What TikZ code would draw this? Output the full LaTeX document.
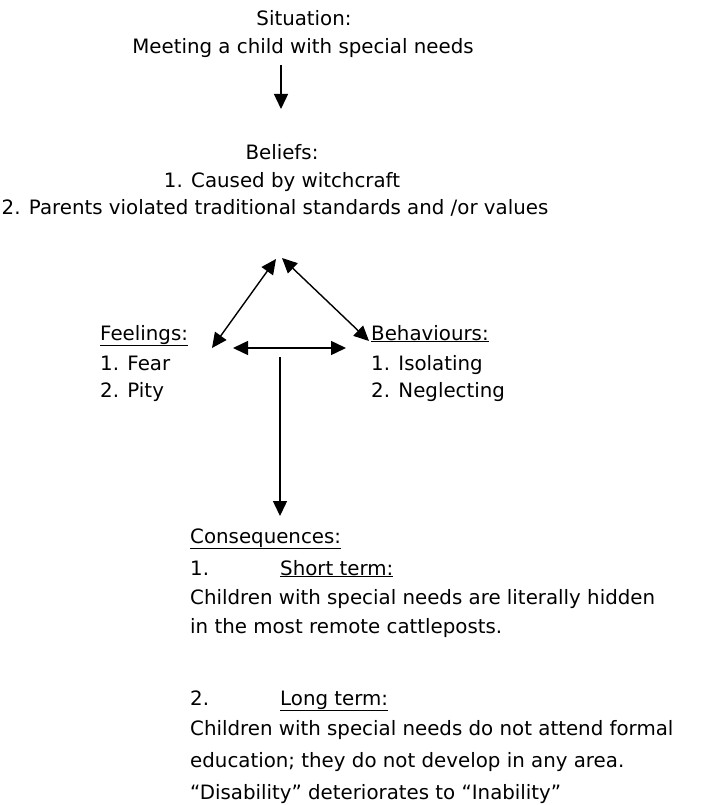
\documentclass[tikz,border=0pt]{standalone}
\usepackage{fontspec}
\setmainfont{DejaVu Sans}
\usetikzlibrary{arrows.meta}
\tikzset{
  txt/.style={inner sep=0pt, font=\fontsize{19.8}{24}\selectfont},
  ctxt/.style={txt, anchor=base},
  ltxt/.style={txt, anchor=base west},
  tip/.tip={Triangle[length=15pt,width=14pt]},
  arr/.style={line width=1.4pt, -tip},
  darr/.style={line width=1.4pt, tip-tip}
}
\begin{document}
\begin{tikzpicture}[x=1pt,y=-1pt]
\useasboundingbox (0,0) rectangle (701,805);
% Situation
\node[ctxt] (sit1) at (304,26) {Situation:};
\node[ctxt] (sit2) at (303,54) {Meeting a child with special needs};
\coordinate (a1s) at (281,65);
\coordinate (a1e) at (281,109);
\draw[arr] (a1s) -- (a1e);
% Beliefs
\node[ctxt] (bel1) at (282,160) {Beliefs:};
\node[ctxt] (bel2) at (282,187) {1. Caused by witchcraft};
\node[ctxt] (bel3) at (275,214) {2. Parents violated traditional standards and /or values};
% triangle
\coordinate (apexL) at (276,259);
\coordinate (apexR) at (282,258);
\coordinate (fe) at (212,348);
\coordinate (be) at (369,341);
\coordinate (hl) at (233,348);
\coordinate (hr) at (346,348);
\draw[darr] (fe) -- (apexL);
\draw[darr] (be) -- (apexR);
\draw[darr] (hl) -- (hr);
% Feelings
\node[ltxt] (fe1) at (100,340) {\underline{Feelings:}};
\node[ltxt] (fe2) at (100,370) {1. Fear};
\node[ltxt] (fe3) at (100,397) {2. Pity};
% Behaviours
\node[ltxt] (be1) at (371,340) {\underline{Behaviours:}};
\node[ltxt] (be2) at (371,370) {1. Isolating};
\node[ltxt] (be3) at (371,397) {2. Neglecting};
% down arrow
\coordinate (ds) at (280,357);
\coordinate (de) at (280,516);
\draw[arr] (ds) -- (de);
% Consequences
\node[ltxt] (c1) at (190,543) {\underline{Consequences:}};
\node[ltxt] (c2) at (190,575) {1.};
\node[ltxt] (c2b) at (280,575) {\underline{Short term:}};
\node[ltxt] (c3) at (190,604) {Children with special needs are literally hidden};
\node[ltxt] (c4) at (190,633) {in the most remote cattleposts.};
\node[ltxt] (c5) at (190,705) {2.};
\node[ltxt] (c5b) at (280,705) {\underline{Long term:}};
\node[ltxt] (c6) at (190,735) {Children with special needs do not attend formal};
\node[ltxt] (c7) at (190,767) {education; they do not develop in any area.};
\node[ltxt] (c8) at (190,799) {“Disability” deteriorates to “Inability”};
\end{tikzpicture}
\end{document}
